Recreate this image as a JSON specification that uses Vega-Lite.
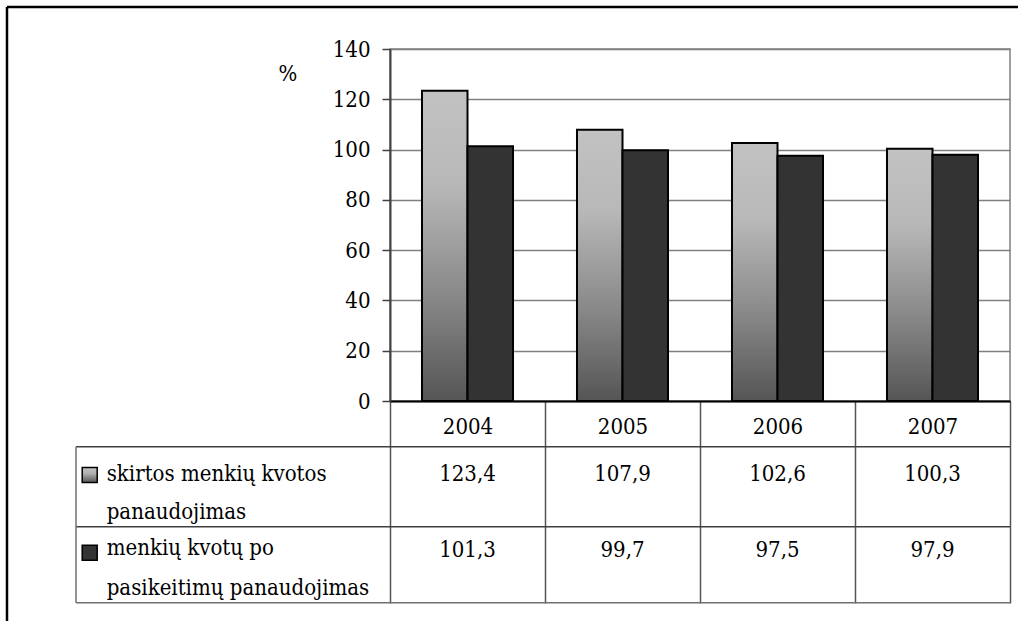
{
  "$schema": "https://vega.github.io/schema/vega-lite/v6.json",
  "width": 620,
  "height": 352,
  "autosize": {"type": "none"},
  "padding": {"left": 390, "top": 49, "right": 8, "bottom": 220},
  "background": "white",
  "config": {
    "font": "DejaVu Serif Condensed",
    "view": {"stroke": "#808080", "strokeWidth": 1.5},
    "locale": {"number": {"decimal": ",", "thousands": " ", "grouping": [3], "currency": ["", " €"]}}
  },
  "data": {
    "values": [
      {"year": "2004", "series": "skirtos menkių kvotos\npanaudojimas", "value": 123.4},
      {"year": "2005", "series": "skirtos menkių kvotos\npanaudojimas", "value": 107.9},
      {"year": "2006", "series": "skirtos menkių kvotos\npanaudojimas", "value": 102.6},
      {"year": "2007", "series": "skirtos menkių kvotos\npanaudojimas", "value": 100.3},
      {"year": "2004", "series": "menkių kvotų po\npasikeitimų panaudojimas", "value": 101.3},
      {"year": "2005", "series": "menkių kvotų po\npasikeitimų panaudojimas", "value": 99.7},
      {"year": "2006", "series": "menkių kvotų po\npasikeitimų panaudojimas", "value": 97.5},
      {"year": "2007", "series": "menkių kvotų po\npasikeitimų panaudojimas", "value": 97.9}
    ]
  },
  "resolve": {"scale": {"x": "independent"}, "axis": {"x": "independent", "y": "independent"}},
  "layer": [
    {
      "transform": [{"filter": {"field": "series", "equal": "skirtos menkių kvotos\npanaudojimas"}}],
      "mark": {
        "type": "bar", "stroke": "black", "strokeWidth": 2,
        "fill": {"gradient": "linear", "x1": 0, "y1": 0, "x2": 0, "y2": 1,
          "stops": [
            {"offset": 0, "color": "#c2c2c2"},
            {"offset": 0.3, "color": "#b8b8b8"},
            {"offset": 0.65, "color": "#8a8a8a"},
            {"offset": 1, "color": "#555555"}
          ]}
      },
      "encoding": {
        "x": {
          "field": "year", "type": "nominal",
          "scale": {"type": "band", "domain": ["2004", "2005", "2006", "2007"], "paddingInner": 0, "paddingOuter": 0},
          "axis": {
            "title": null, "orient": "bottom", "labelAngle": 0, "labelFontSize": 22, "labelColor": "black",
            "labelBaseline": "alphabetic", "labelPadding": -169.5,
            "tickBand": "extent", "tickSize": 202, "tickColor": "#555555", "tickWidth": 1.5,
            "domainColor": "black", "domainWidth": 2, "grid": false
          }
        },
        "xOffset": {
          "field": "series", "type": "nominal",
          "scale": {"domain": ["skirtos menkių kvotos\npanaudojimas", "menkių kvotų po\npasikeitimų panaudojimas"], "paddingInner": 0, "paddingOuter": 0.703}
        },
        "y": {
          "field": "value", "type": "quantitative",
          "scale": {"domain": [0, 140], "nice": false},
          "axis": {
            "orient": "left",
            "title": "%", "titleAngle": 0, "titleX": -102.5, "titleY": 24, "titleAlign": "center",
            "titleBaseline": "middle", "titleFontSize": 22, "titleFontWeight": "normal", "titleColor": "black",
            "values": [0, 20, 40, 60, 80, 100, 120, 140],
            "labelFontSize": 22, "labelColor": "black", "labelPadding": 12,
            "tickSize": 8, "tickColor": "#404040", "tickWidth": 1.5,
            "domainColor": "#404040", "domainWidth": 2,
            "grid": true, "gridColor": "#808080", "gridWidth": 1.5
          }
        }
      }
    },
    {
      "transform": [{"filter": {"field": "series", "equal": "menkių kvotų po\npasikeitimų panaudojimas"}}],
      "mark": {"type": "bar", "stroke": "black", "strokeWidth": 2, "fill": "#333333"},
      "encoding": {
        "x": {"field": "year", "type": "nominal", "scale": {"type": "band", "domain": ["2004", "2005", "2006", "2007"], "paddingInner": 0, "paddingOuter": 0}, "axis": null},
        "xOffset": {"field": "series", "type": "nominal", "scale": {"domain": ["skirtos menkių kvotos\npanaudojimas", "menkių kvotų po\npasikeitimų panaudojimas"], "paddingInner": 0, "paddingOuter": 0.703}},
        "y": {"field": "value", "type": "quantitative", "scale": {"domain": [0, 140], "nice": false}, "axis": null}
      }
    },
    {
      "transform": [{"filter": {"field": "series", "equal": "skirtos menkių kvotos\npanaudojimas"}}],
      "mark": {"type": "text", "fontSize": 22, "color": "black", "align": "center", "baseline": "alphabetic"},
      "encoding": {
        "x": {"field": "year", "type": "nominal", "bandPosition": 0.5, "scale": {"type": "band", "domain": ["2004", "2005", "2006", "2007"], "paddingInner": 0, "paddingOuter": 0}, "axis": null},
        "y": {"datum": -31.7, "type": "quantitative", "scale": {"domain": [0, 140], "nice": false}, "axis": null},
        "text": {"field": "value", "type": "quantitative", "format": ".1f"}
      }
    },
    {
      "transform": [{"filter": {"field": "series", "equal": "menkių kvotų po\npasikeitimų panaudojimas"}}],
      "mark": {"type": "text", "fontSize": 22, "color": "black", "align": "center", "baseline": "alphabetic"},
      "encoding": {
        "x": {"field": "year", "type": "nominal", "bandPosition": 0.5, "scale": {"type": "band", "domain": ["2004", "2005", "2006", "2007"], "paddingInner": 0, "paddingOuter": 0}, "axis": null},
        "y": {"datum": -62.05, "type": "quantitative", "scale": {"domain": [0, 140], "nice": false}, "axis": null},
        "text": {"field": "value", "type": "quantitative", "format": ".1f"}
      }
    },
    {
      "transform": [{"filter": {"field": "year", "equal": "2004"}}, {"filter": {"field": "series", "equal": "skirtos menkių kvotos\npanaudojimas"}}],
      "mark": {"type": "text", "fontSize": 22, "color": "black", "align": "left", "baseline": "alphabetic", "lineBreak": "\n", "lineHeight": 38.5},
      "encoding": {
        "x": {"datum": -1.8277, "type": "quantitative", "scale": {"domain": [0, 4], "nice": false, "zero": false}, "axis": null},
        "y": {"datum": -31.8, "type": "quantitative", "scale": {"domain": [0, 140], "nice": false}, "axis": null},
        "text": {"field": "series", "type": "nominal"}
      }
    },
    {
      "transform": [{"filter": {"field": "year", "equal": "2004"}}, {"filter": {"field": "series", "equal": "menkių kvotų po\npasikeitimų panaudojimas"}}],
      "mark": {"type": "text", "fontSize": 22, "color": "black", "align": "left", "baseline": "alphabetic", "lineBreak": "\n", "lineHeight": 39.5},
      "encoding": {
        "x": {"datum": -1.8277, "type": "quantitative", "scale": {"domain": [0, 4], "nice": false, "zero": false}, "axis": null},
        "y": {"datum": -61.25, "type": "quantitative", "scale": {"domain": [0, 140], "nice": false}, "axis": null},
        "text": {"field": "series", "type": "nominal"}
      }
    },
    {
      "transform": [{"filter": {"field": "year", "equal": "2004"}}, {"filter": {"field": "series", "equal": "skirtos menkių kvotos\npanaudojimas"}}],
      "mark": {
        "type": "point", "shape": "square", "size": 225, "filled": true, "opacity": 1, "stroke": "black", "strokeWidth": 1.5,
        "fill": {"gradient": "linear", "x1": 0, "y1": 0, "x2": 0, "y2": 1,
          "stops": [{"offset": 0, "color": "#c2c2c2"}, {"offset": 0.4, "color": "#b0b0b0"}, {"offset": 1, "color": "#555555"}]}
      },
      "encoding": {
        "x": {"datum": -1.9374, "type": "quantitative", "scale": {"domain": [0, 4], "nice": false, "zero": false}, "axis": null},
        "y": {"datum": -29.43, "type": "quantitative", "scale": {"domain": [0, 140], "nice": false}, "axis": null}
      }
    },
    {
      "transform": [{"filter": {"field": "year", "equal": "2004"}}, {"filter": {"field": "series", "equal": "menkių kvotų po\npasikeitimų panaudojimas"}}],
      "mark": {"type": "point", "shape": "square", "size": 225, "filled": true, "opacity": 1, "stroke": "black", "strokeWidth": 1.5, "fill": "#333333"},
      "encoding": {
        "x": {"datum": -1.9374, "type": "quantitative", "scale": {"domain": [0, 4], "nice": false, "zero": false}, "axis": null},
        "y": {"datum": -60.4, "type": "quantitative", "scale": {"domain": [0, 140], "nice": false}, "axis": null}
      }
    },
    {
      "transform": [{"filter": {"field": "year", "equal": "2004"}}, {"filter": {"field": "series", "equal": "skirtos menkių kvotos\npanaudojimas"}}],
      "mark": {"type": "rule", "color": "#404040", "strokeWidth": 1.5},
      "encoding": {
        "x": {"datum": -2.0258, "type": "quantitative", "scale": {"domain": [0, 4], "nice": false, "zero": false}, "axis": null},
        "x2": {"datum": 4},
        "y": {"datum": -18.18, "type": "quantitative", "scale": {"domain": [0, 140], "nice": false}, "axis": null}
      }
    },
    {
      "transform": [{"filter": {"field": "year", "equal": "2004"}}, {"filter": {"field": "series", "equal": "skirtos menkių kvotos\npanaudojimas"}}],
      "mark": {"type": "rule", "color": "#404040", "strokeWidth": 1.5},
      "encoding": {
        "x": {"datum": -2.0258, "type": "quantitative", "scale": {"domain": [0, 4], "nice": false, "zero": false}, "axis": null},
        "x2": {"datum": 4},
        "y": {"datum": -50.0, "type": "quantitative", "scale": {"domain": [0, 140], "nice": false}, "axis": null}
      }
    },
    {
      "transform": [{"filter": {"field": "year", "equal": "2004"}}, {"filter": {"field": "series", "equal": "skirtos menkių kvotos\npanaudojimas"}}],
      "mark": {"type": "rule", "color": "#707070", "strokeWidth": 1.5},
      "encoding": {
        "x": {"datum": -2.0258, "type": "quantitative", "scale": {"domain": [0, 4], "nice": false, "zero": false}, "axis": null},
        "x2": {"datum": 4},
        "y": {"datum": -80.22, "type": "quantitative", "scale": {"domain": [0, 140], "nice": false}, "axis": null}
      }
    },
    {
      "transform": [{"filter": {"field": "year", "equal": "2004"}}, {"filter": {"field": "series", "equal": "skirtos menkių kvotos\npanaudojimas"}}],
      "mark": {"type": "rule", "color": "#707070", "strokeWidth": 1.5},
      "encoding": {
        "x": {"datum": -2.0258, "type": "quantitative", "scale": {"domain": [0, 4], "nice": false, "zero": false}, "axis": null},
        "y": {"datum": -18.18, "type": "quantitative", "scale": {"domain": [0, 140], "nice": false}, "axis": null},
        "y2": {"datum": -80.22}
      }
    },
    {
      "transform": [{"filter": {"field": "year", "equal": "2004"}}, {"filter": {"field": "series", "equal": "skirtos menkių kvotos\npanaudojimas"}}],
      "mark": {"type": "rule", "color": "black", "strokeWidth": 2.5},
      "encoding": {
        "x": {"datum": -2.471, "type": "quantitative", "scale": {"domain": [0, 4], "nice": false, "zero": false}, "axis": null},
        "y": {"datum": 156.7, "type": "quantitative", "scale": {"domain": [0, 140], "nice": false}, "axis": null},
        "y2": {"datum": -95}
      }
    },
    {
      "transform": [{"filter": {"field": "year", "equal": "2004"}}, {"filter": {"field": "series", "equal": "skirtos menkių kvotos\npanaudojimas"}}],
      "mark": {"type": "rule", "color": "black", "strokeWidth": 2.5},
      "encoding": {
        "x": {"datum": -2.471, "type": "quantitative", "scale": {"domain": [0, 4], "nice": false, "zero": false}, "axis": null},
        "x2": {"datum": 4.3},
        "y": {"datum": 156.7, "type": "quantitative", "scale": {"domain": [0, 140], "nice": false}, "axis": null}
      }
    }
  ]
}
